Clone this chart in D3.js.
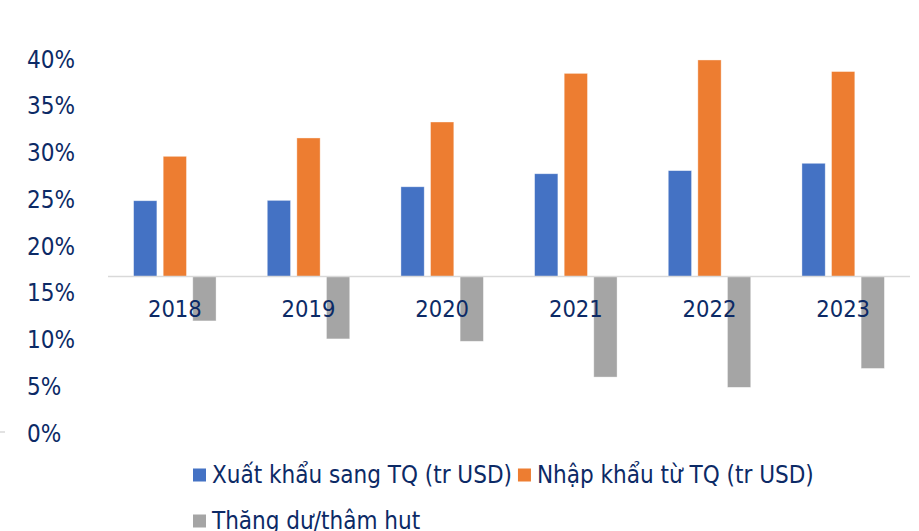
<!DOCTYPE html>
<html>
<head>
<meta charset="utf-8">
<script src="https://cdn.jsdelivr.net/npm/d3@7"></script>
<style>
  body { margin: 0; background: #fff; }
  text { font-family: "DejaVu Sans Condensed", "DejaVu Sans", sans-serif; fill: #0c2a66; }
</style>
</head>
<body>
<svg id="chart" width="919" height="531"></svg>
<script>
// years on the category axis
var years = ["2018", "2019", "2020", "2021", "2022", "2023"];
// million USD
var exportsCN = [41300, 41500, 48900, 56000, 57700, 61700];
var importsCN = [65500, 75500, 84200, 110700, 118000, 111700];
var balance = [-24200, -34000, -35300, -54800, -60400, -50100];
// left axis labels (as printed in the picture)
var pctTicks = [0, 0.05, 0.10, 0.15, 0.20, 0.25, 0.30, 0.35, 0.40];

var seriesNames = ["Xuất khẩu sang TQ (tr USD)", "Nhập khẩu từ TQ (tr USD)", "Thăng dư/thâm hut"];
var colors = ["#4472C4", "#ED7D31", "#A5A5A5"];

var svg = d3.select("#chart");

var x = d3.scaleBand().domain(years).range([108, 910]);
var xSub = d3.scaleBand().domain([0, 1, 2])
    .range([x.bandwidth() * 0.1915, x.bandwidth() * 0.8085])
    .paddingInner(0.213);

var y = d3.scaleLinear().domain([-85000, 120000]).range([432.5, 56.3]);
var yPct = d3.scaleLinear().domain([0, 0.4]).range([432.5, 58.5]);

// percentage labels on the left
var yAxis = svg.append("g")
    .attr("transform", "translate(27,0)")
    .call(d3.axisRight(yPct).tickValues(pctTicks).tickFormat(d3.format(".0%")).tickSize(0).tickPadding(0));
yAxis.select(".domain").remove();
yAxis.selectAll("text").attr("font-size", "24px").attr("dy", "0.36em")
    .style("font-family", "DejaVu Sans Condensed");

// small stub at the left edge
svg.append("line")
    .attr("x1", 0).attr("x2", 5)
    .attr("y1", yPct(0) - 0.5).attr("y2", yPct(0) - 0.5)
    .attr("stroke", "#d9d9d9").attr("stroke-width", 1.5);

var rows = years.map(function(yr, i) {
  return { year: yr, values: [exportsCN[i], importsCN[i], balance[i]] };
});

var groups = svg.append("g").selectAll("g")
    .data(rows).enter().append("g")
    .attr("transform", function(d) { return "translate(" + x(d.year) + ",0)"; });

groups.selectAll("rect")
    .data(function(d) { return d.values; })
    .enter().append("rect")
    .attr("x", function(d, i) { return xSub(i); })
    .attr("width", xSub.bandwidth())
    .attr("y", function(d) { return d >= 0 ? y(d) : y(0); })
    .attr("height", function(d) { return Math.abs(y(d) - y(0)); })
    .attr("fill", function(d, i) { return colors[i]; })
    .attr("stroke", "#fff").attr("stroke-opacity", 0.5).attr("stroke-width", 0.75);

// zero line
svg.append("line")
    .attr("x1", 108).attr("x2", 910)
    .attr("y1", y(0)).attr("y2", y(0))
    .attr("stroke", "#d9d9d9").attr("stroke-width", 1.5);

// category labels
var xAxis = svg.append("g")
    .attr("transform", "translate(0," + y(0) + ")")
    .call(d3.axisBottom(x).tickSize(0).tickPadding(0));
xAxis.select(".domain").remove();
xAxis.selectAll("text").attr("font-size", "23.5px").attr("dy", "40px").attr("y", 0)
    .style("font-family", "DejaVu Sans Condensed");

// legend
var legend = svg.append("g");
var lx = 193;
function legendItem(i, px, py) {
  var g = legend.append("g").attr("transform", "translate(" + px + "," + py + ")");
  g.append("rect").attr("x", 0).attr("y", -14.5).attr("width", 13).attr("height", 13).attr("fill", colors[i]);
  var t = g.append("text").attr("x", 19).attr("y", 0).attr("font-size", "24px").text(seriesNames[i]);
  return px + 19 + t.node().getComputedTextLength();
}
var end1 = legendItem(0, lx, 483);
legendItem(1, end1 + 6, 483);
legendItem(2, lx, 529);
</script>
</body>
</html>
